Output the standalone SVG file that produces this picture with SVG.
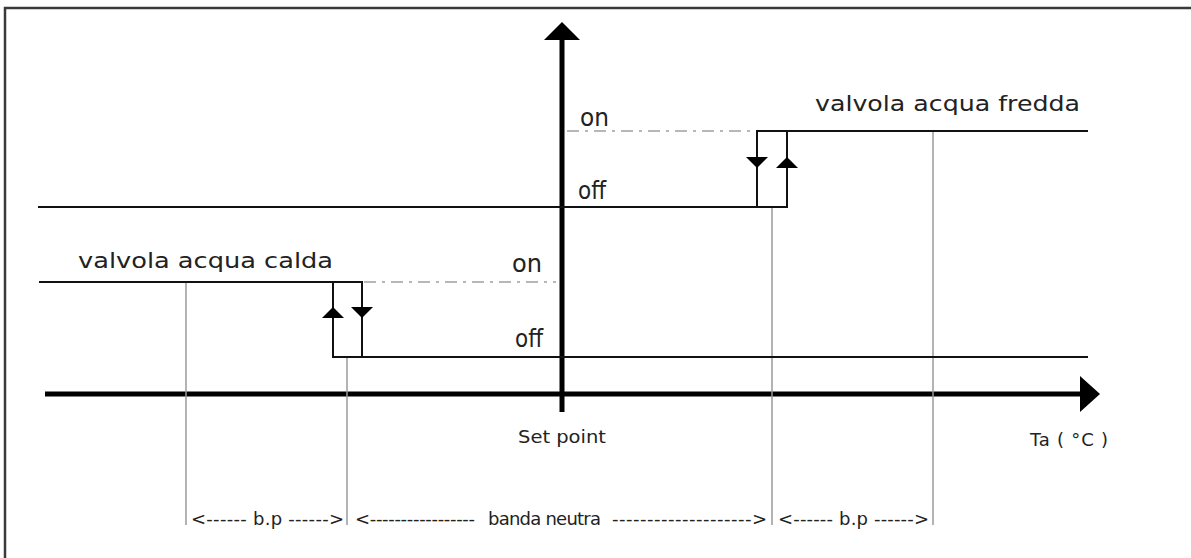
<svg xmlns="http://www.w3.org/2000/svg" width="1191" height="558" viewBox="0 0 1191 558">
  <style>
    .frame { stroke: #3a3a3a; stroke-width: 2.5; fill: none; }
    .axis { stroke: #000; stroke-width: 5; fill: none; }
    .curve { stroke: #111; stroke-width: 2; fill: none; }
    .dash { stroke: #a0a0a0; stroke-width: 1.6; fill: none; stroke-dasharray: 12 6 3 6; }
    .guide { stroke: #9a9a9a; stroke-width: 1.5; fill: none; }
    .head { fill: #000; }
    .lbl { font-family: "DejaVu Sans", "Liberation Sans", sans-serif; fill: #222; }
    .big { font-size: 22px; }
    .state { font-size: 25px; }
    .small { font-size: 18px; }
  </style>

  <rect width="1191" height="558" fill="#fff"/>

  <!-- page frame (top and left edges only) -->
  <g id="frame">
    <path class="frame" d="M5 558 V8 H1191"/>
  </g>

  <!-- temperature / state axes -->
  <g id="axes">
    <line class="axis" x1="562" y1="38" x2="562" y2="412"/>
    <polygon class="head" points="544,40 562,22 580,40"/>
    <line class="axis" x1="45" y1="394" x2="1082" y2="394"/>
    <polygon class="head" points="1080,376 1100,394 1080,412"/>
  </g>

  <!-- band limit guides -->
  <g id="guides">
    <line class="guide" x1="186" y1="282" x2="186" y2="525"/>
    <line class="guide" x1="347" y1="357" x2="347" y2="525"/>
    <line class="guide" x1="772" y1="207" x2="772" y2="525"/>
    <line class="guide" x1="933" y1="131" x2="933" y2="525"/>
  </g>

  <!-- hot water valve hysteresis -->
  <g id="valve-hot">
    <line class="dash" x1="364" y1="282" x2="556" y2="282"/>
    <polyline class="curve" points="39,282 362,282 362,357"/>
    <polyline class="curve" points="333,282 333,357 1088,357"/>
    <polygon class="head" points="322,318 333,307 344,318"/>
    <polygon class="head" points="351,307 373,307 362,318"/>
    <text class="lbl big" x="78" y="268" textLength="255" lengthAdjust="spacingAndGlyphs">valvola acqua calda</text>
    <text class="lbl state" x="512" y="272" textLength="30" lengthAdjust="spacingAndGlyphs">on</text>
    <text class="lbl state" x="515" y="347" textLength="28" lengthAdjust="spacingAndGlyphs">off</text>
  </g>

  <!-- cold water valve hysteresis -->
  <g id="valve-cold">
    <line class="dash" x1="567" y1="131" x2="753" y2="131"/>
    <polyline class="curve" points="38,207 787,207 787,131"/>
    <polyline class="curve" points="757,207 757,131 1088,131"/>
    <polygon class="head" points="746,157 768,157 757,168"/>
    <polygon class="head" points="776,168 787,157 798,168"/>
    <text class="lbl big" x="815" y="111" textLength="265" lengthAdjust="spacingAndGlyphs">valvola acqua fredda</text>
    <text class="lbl state" x="580" y="126" textLength="29" lengthAdjust="spacingAndGlyphs">on</text>
    <text class="lbl state" x="578" y="199" textLength="28" lengthAdjust="spacingAndGlyphs">off</text>
  </g>

  <!-- axis captions -->
  <g id="axis-labels">
    <text class="lbl small" x="518" y="443" textLength="88" lengthAdjust="spacingAndGlyphs">Set point</text>
    <text class="lbl small" x="1030" y="446" textLength="78" lengthAdjust="spacing">Ta ( °C )</text>
  </g>

  <!-- band widths -->
  <g id="bands">
    <text class="lbl small" x="191" y="525" textLength="153" lengthAdjust="spacing">&lt;------  b.p  ------&gt;</text>
    <text class="lbl small" y="525">
      <tspan x="355" textLength="120" lengthAdjust="spacing">&lt;-----------------</tspan>
      <tspan x="488" textLength="113" lengthAdjust="spacing">banda neutra</tspan>
      <tspan x="612" textLength="155" lengthAdjust="spacing">--------------------&gt;</tspan>
    </text>
    <text class="lbl small" x="778" y="525" textLength="151" lengthAdjust="spacing">&lt;------  b.p  ------&gt;</text>
  </g>
</svg>
